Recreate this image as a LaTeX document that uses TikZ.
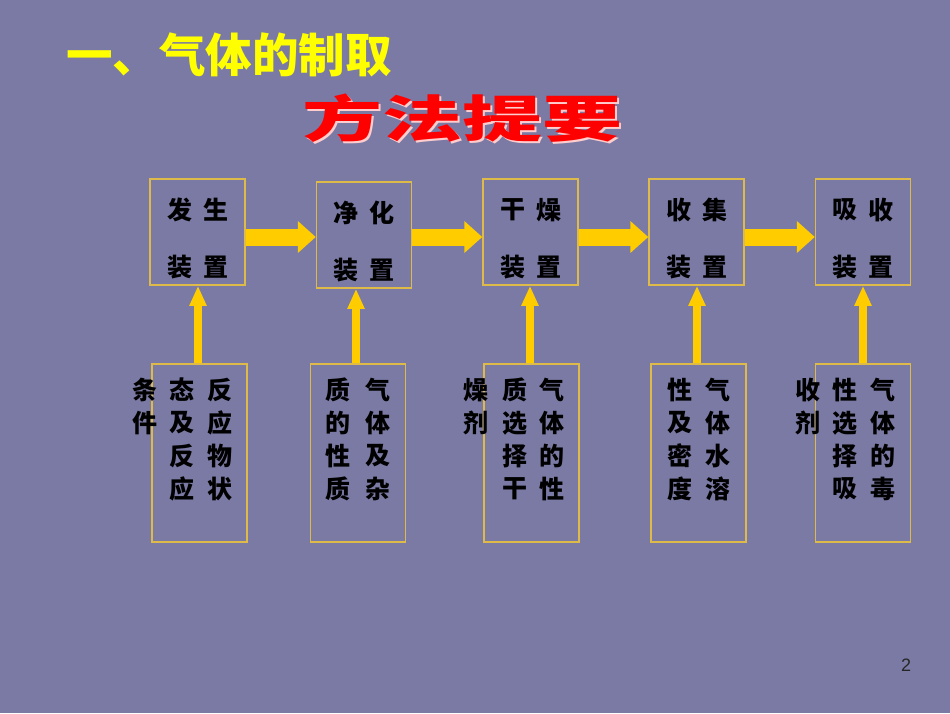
\documentclass[tikz,border=0pt]{standalone}
\usepackage{fontspec}
\usepackage{xcolor}
\usepackage{tikz}
\usetikzlibrary{arrows.meta,positioning,calc}
\setmainfont{Liberation Sans}
\newfontfamily\cjk{Noto Sans CJK SC}
\definecolor{slidebg}{RGB}{122,122,164}
\definecolor{boxline}{RGB}{222,186,72}
\definecolor{arrowyellow}{RGB}{255,204,0}
\definecolor{titleyellow}{RGB}{255,255,0}
\definecolor{wordred}{RGB}{255,0,0}
\definecolor{wordshade}{RGB}{255,205,205}
\newcommand{\shadedword}[1]{\makebox[0pt][l]{\hspace{1.4pt}\raisebox{-1.6pt}{\color{wordshade}#1}}\color{wordred}#1}

\tikzset{
    devbox/.style={draw=boxline, line width=1.5pt, minimum width=95pt, minimum height=106pt, inner sep=0pt},
    notebox/.style={draw=boxline, line width=1.5pt, minimum width=95pt, minimum height=178pt, inner sep=0pt},
    ch/.style={font=\cjk\bfseries\fontsize{25}{25}\selectfont, inner sep=0pt, text=black},
    flow/.style={draw=arrowyellow, line width=17pt, -{Triangle[length=18pt,width=31pt]}},
    feed/.style={draw=arrowyellow, line width=8pt, -{Triangle[length=20pt,width=16pt]}}
}

\begin{document}
\begin{tikzpicture}[x=1pt, y=-1pt]
\fill[slidebg] (0,0) rectangle (950,713);
\useasboundingbox (0,0) rectangle (950,713);

% headings
\node[anchor=west, inner sep=0pt, text=titleyellow, font=\cjk\bfseries\fontsize{46.5}{46.5}\selectfont] (title) at (66,55) {一、气体的制取};
\node[inner sep=0pt, xscale=1.6, font=\cjk\bfseries\fontsize{50}{50}\selectfont] (sub) at (462,119) {\shadedword{方法提要}};

% apparatus boxes
\node[devbox] (b1) at (197.5,232) {};
\node[devbox] (b2) at (364,235) {};
\node[devbox] (b3) at (530.5,232) {};
\node[devbox] (b4) at (696.5,232) {};
\node[devbox] (b5) at (863,232) {};

\foreach \n/\x/\y/\a/\b in {1/197.5/232/发/生, 2/364/235/净/化, 3/530.5/232/干/燥, 4/696.5/232/收/集, 5/863/232/吸/收} {
    \node[ch] (b\n-a) at (\x-18,\y-22) {\a};
    \node[ch] (b\n-b) at (\x+18,\y-22) {\b};
    \node[ch] (b\n-c) at (\x-18,\y+35) {装};
    \node[ch] (b\n-d) at (\x+18,\y+35) {置};
}

% note boxes
\node[notebox] (l1) at (199.5,453) {};
\node[notebox] (l2) at (358,453) {};
\node[notebox] (l3) at (531.5,453) {};
\node[notebox] (l4) at (698.5,453) {};
\node[notebox] (l5) at (863,453) {};

% note texts, read top-down and right to left
\foreach \c [count=\i] in {反,应,物,状} \node[ch] (l1-r\i) at (220,390+33*\i-33) {\c};
\foreach \c [count=\i] in {态,及,反,应} \node[ch] (l1-m\i) at (182,390+33*\i-33) {\c};
\foreach \c [count=\i] in {条,件} \node[ch] (l1-o\i) at (145,390+33*\i-33) {\c};

\foreach \c [count=\i] in {气,体,及,杂} \node[ch] (l2-r\i) at (378,390+33*\i-33) {\c};
\foreach \c [count=\i] in {质,的,性,质} \node[ch] (l2-m\i) at (338,390+33*\i-33) {\c};

\foreach \c [count=\i] in {气,体,的,性} \node[ch] (l3-r\i) at (552,390+33*\i-33) {\c};
\foreach \c [count=\i] in {质,选,择,干} \node[ch] (l3-m\i) at (515,390+33*\i-33) {\c};
\foreach \c [count=\i] in {燥,剂} \node[ch] (l3-o\i) at (476,390+33*\i-33) {\c};

\foreach \c [count=\i] in {气,体,水,溶} \node[ch] (l4-r\i) at (718,390+33*\i-33) {\c};
\foreach \c [count=\i] in {性,及,密,度} \node[ch] (l4-m\i) at (680,390+33*\i-33) {\c};

\foreach \c [count=\i] in {气,体,的,毒} \node[ch] (l5-r\i) at (883,390+33*\i-33) {\c};
\foreach \c [count=\i] in {性,选,择,吸} \node[ch] (l5-m\i) at (845,390+33*\i-33) {\c};
\foreach \c [count=\i] in {收,剂} \node[ch] (l5-o\i) at (808,390+33*\i-33) {\c};

% process arrows
\draw[flow] ([yshift=-5pt]b1.east) -- ([yshift=-5pt]b1.east -| b2.west);
\draw[flow] ([yshift=-2pt]b2.east) -- ([yshift=-2pt]b2.east -| b3.west);
\draw[flow] ([yshift=-5pt]b3.east) -- ([yshift=-5pt]b3.east -| b4.west);
\draw[flow] ([yshift=-5pt]b4.east) -- ([yshift=-5pt]b4.east -| b5.west);

% feed arrows
\foreach \n/\dx in {1/-1.5, 2/-2, 3/-1.5, 4/-1.5, 5/0}
    \draw[feed] ([xshift=\dx pt]l\n.north) -- ([xshift=\dx pt]l\n.north |- b\n.south);

\node[inner sep=0pt, font=\fontsize{18}{18}\selectfont, text=black!85] (page) at (906,665) {2};
\end{tikzpicture}
\end{document}
